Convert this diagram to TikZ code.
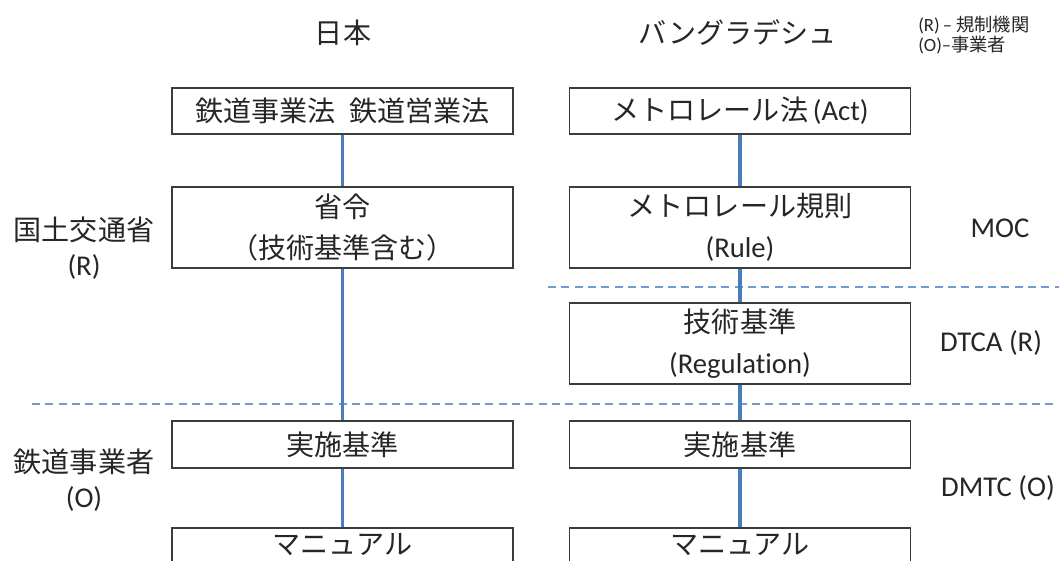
\documentclass[tikz,border=0pt]{standalone}
\usepackage{fontspec}
\setmainfont[Ligatures={NoCommon}]{Carlito}
\newfontfamily\jp[Scale=0.98]{Noto Sans CJK JP}
\definecolor{linkblue}{RGB}{74,126,187}
\definecolor{dashblue}{RGB}{110,155,208}
\definecolor{boxgray}{RGB}{60,60,60}
\begin{document}
\begin{tikzpicture}[x=0.75pt,y=-0.75pt,
  txt/.style={font=\fontsize{21.5}{30.75}\selectfont, align=center, inner sep=0pt, text=black!85},
  box/.style={txt, draw=boxgray, line width=1.4pt, minimum width=255.75pt},
  box1/.style={box, minimum height=34.75pt},
  box2/.style={box, minimum height=60.25pt},
  link/.style={draw=linkblue, line width=2.3pt},
  sep/.style={draw=dashblue, line width=1.2pt, dash pattern=on 6pt off 4pt},
  small/.style={font=\fontsize{14}{13}\selectfont, inner sep=0pt, anchor=west, align=left, text=black!85}]
\useasboundingbox (0,0) rectangle (1059,560);
\clip (0,0) rectangle (1059,560);
% titles
\node[txt] (tj) at (343,33) {\jp 日本};
\node[txt] (tb) at (738,33) {\jp バングラデシュ};
\node[small] (lg) at (918,35) {(R)\,– {\jp 規制機関}\\(O)–{\jp 事業者}};
% separators
\coordinate (s1a) at (548,287); \coordinate (s1b) at (1059,287);
\coordinate (s2a) at (32,404); \coordinate (s2b) at (1059,404);
\draw[sep] (s1a) -- (s1b);
\draw[sep] (s2a) -- (s2b);
% left column
\node[box1] (L1) at (342.5,111) {\jp 鉄道事業法\hspace{0.5em}鉄道営業法};
\node[box2] (L2) at (342.5,227.5) {\jp 省令\\\jp （技術基準含む）};
\node[box1] (L3) at (342.5,444.5) {\jp 実施基準};
\node[box, minimum height=45pt, anchor=north] (L4) at (342.5,527) {};
\node[txt] (L4t) at (342.5,545) {\jp マニュアル};
% right column
\node[box1] (R1) at (740,111) {{\jp メトロレール法}\,(Act)};
\node[box2] (R2) at (740,227.5) {\jp メトロレール規則\\(Rule)};
\node[box2] (R3) at (740,343.5) {\jp 技術基準\\(Regulation)};
\node[box1] (R4) at (740,444.5) {\jp 実施基準};
\node[box, minimum height=45pt, anchor=north] (R5) at (740,527) {};
\node[txt] (R5t) at (740,545) {\jp マニュアル};
% connectors
\draw[link] (L1.south) -- (L2.north);
\draw[link] (L2.south) -- (L3.north);
\draw[link] (L3.south) -- (L4.north);
\draw[link] (R1.south) -- (R2.north);
\draw[link] (R2.south) -- (R3.north);
\draw[link] (R3.south) -- (R4.north);
\draw[link] (R4.south) -- (R5.north);
% side labels
\node[txt, font=\fontsize{21.5}{26}\selectfont] (mlit) at (84,248) {\jp 国土交通省\\(R)};
\node[txt, font=\fontsize{21.5}{26}\selectfont] (oper) at (84,480) {\jp 鉄道事業者\\(O)};
\node[txt] (moc) at (1000,228) {MOC};
\node[txt] (dtca) at (991,343) {DTCA (R)};
\node[txt] (dmtc) at (998,488) {DMTC (O)};
\end{tikzpicture}
\end{document}
